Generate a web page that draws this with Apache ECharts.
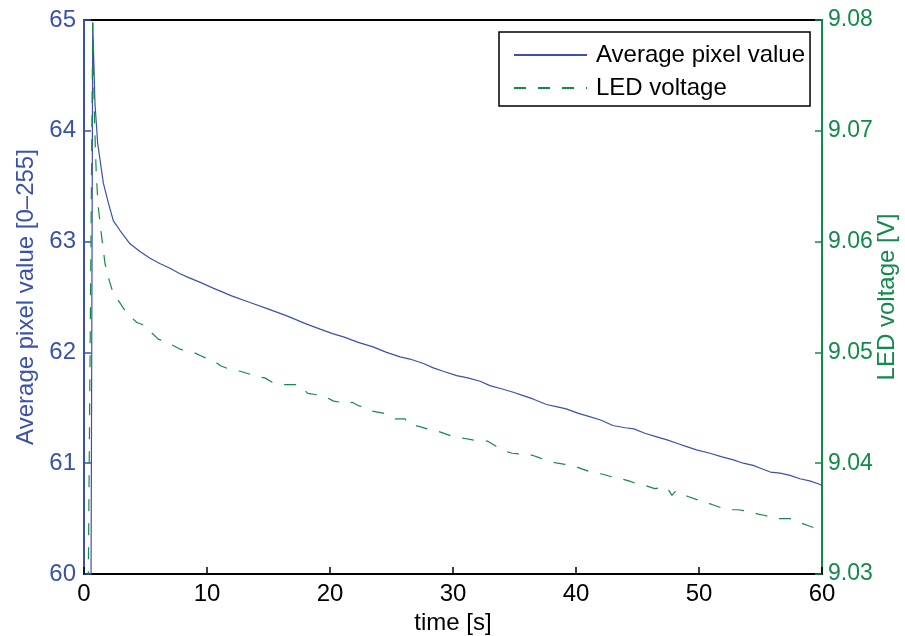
<!DOCTYPE html>
<html>
<head>
<meta charset="utf-8">
<script src="https://cdn.jsdelivr.net/npm/echarts@6/dist/echarts.min.js"></script>
<style>
  html, body { margin: 0; padding: 0; background: #fff; }
  #chart { width: 905px; height: 636px; }
</style>
</head>
<body>
<div id="chart"></div>
<script>
// time axis ticks
var timeTicks = [0, 10, 20, 30, 40, 50, 60];
var pixelTicks = [60, 61, 62, 63, 64, 65];
var voltTicks = [9.03, 9.04, 9.05, 9.06, 9.07, 9.08];

// Average pixel value series
var pixelTime = [0.56, 0.71, 0.89, 1.11, 1.30, 1.57, 1.98, 2.38, 2.93, 3.74, 4.55, 5.37, 6.2, 6.99, 7.8, 8.62, 9.5, 10.5, 12.0, 13.5, 15.0, 16.5, 18.0, 19.2, 20.2, 21.1, 22.3, 23.5, 24.6, 25.7, 26.5, 27.6, 28.4, 29.2, 30.3, 31.2, 32.2, 33.0, 34.0, 34.9, 35.7, 36.5, 37.6, 38.4, 39.2, 40.2, 41.1, 42.0, 43.0, 44.0, 44.7, 45.6, 46.5, 47.4, 48.2, 49.0, 49.8, 50.9, 51.8, 52.8, 53.6, 54.4, 55.1, 55.8, 56.6, 57.4, 58.2, 59.0, 59.8, 60.0];
var pixelValue = [59.5, 64.98, 64.25, 63.89, 63.74, 63.53, 63.35, 63.19, 63.10, 62.98, 62.91, 62.85, 62.80, 62.76, 62.71, 62.67, 62.63, 62.58, 62.51, 62.45, 62.39, 62.33, 62.26, 62.21, 62.17, 62.14, 62.09, 62.05, 62.00, 61.96, 61.94, 61.90, 61.86, 61.83, 61.79, 61.77, 61.74, 61.70, 61.67, 61.64, 61.61, 61.58, 61.53, 61.51, 61.49, 61.45, 61.42, 61.39, 61.34, 61.32, 61.31, 61.27, 61.24, 61.21, 61.18, 61.15, 61.12, 61.09, 61.06, 61.03, 61.00, 60.98, 60.95, 60.92, 60.91, 60.89, 60.86, 60.84, 60.81, 60.80];

// LED voltage series
var ledTime = [0.33, 0.71, 0.85, 1.00, 1.16, 1.44, 1.71, 2.05, 2.38, 2.79, 3.2, 3.6, 4.3, 4.8, 5.37, 6.04, 6.6, 7.1, 7.8, 8.1, 8.9, 9.5, 10.1, 10.6, 11.1, 12.0, 12.7, 13.3, 14.1, 14.7, 15.3, 16.2, 16.8, 17.4, 18.2, 18.8, 19.4, 20.3, 20.9, 21.4, 21.8, 22.3, 22.9, 23.4, 24.4, 25.3, 26.1, 26.3, 27.3, 27.9, 28.5, 29.5, 30.0, 30.6, 31.6, 32.2, 32.8, 33.7, 34.2, 34.8, 35.9, 36.5, 37.0, 38.0, 38.5, 39.1, 40.2, 40.7, 41.2, 42.2, 42.8, 43.3, 44.3, 44.8, 45.3, 46.4, 46.9, 47.4, 47.8, 48.1, 48.6, 49.1, 50.1, 50.6, 51.0, 52.0, 52.6, 53.2, 54.3, 54.8, 55.3, 56.3, 56.9, 57.4, 58.3, 58.8, 59.3, 60.0];
var ledVoltage = [9.027, 9.0797, 9.0710, 9.0660, 9.0631, 9.0604, 9.0580, 9.0565, 9.0553, 9.0547, 9.0540, 9.0534, 9.0527, 9.0525, 9.0519, 9.0512, 9.0510, 9.0507, 9.0503, 9.0502, 9.0500, 9.0497, 9.0494, 9.0492, 9.0488, 9.0484, 9.0483, 9.0481, 9.0478, 9.0477, 9.0473, 9.0471, 9.0471, 9.0471, 9.0463, 9.0462, 9.0461, 9.0456, 9.0455, 9.0453, 9.0455, 9.0452, 9.0450, 9.0447, 9.0445, 9.0440, 9.0440, 9.0436, 9.0433, 9.0431, 9.0430, 9.0426, 9.0424, 9.0423, 9.0421, 9.0420, 9.0420, 9.0414, 9.0411, 9.0409, 9.0408, 9.0407, 9.0405, 9.0401, 9.0400, 9.0399, 9.0396, 9.0394, 9.0392, 9.0390, 9.0388, 9.0387, 9.0384, 9.0382, 9.0381, 9.0377, 9.0378, 9.0378, 9.0371, 9.0375, 9.0372, 9.0370, 9.0366, 9.0364, 9.0363, 9.0359, 9.0358, 9.0358, 9.0356, 9.0354, 9.0353, 9.0350, 9.0350, 9.0350, 9.0346, 9.0344, 9.0342, 9.0342];

var seriesNames = ['Average pixel value', 'LED voltage'];
var leftName = 'Average pixel value [0\u2013255]';
var rightName = 'LED voltage [V]';
var xName = 'time [s]';

var BLUE = '#3a52a8';
var GREEN = '#138a4a';
var FONT = '"Liberation Sans", Arial, Helvetica, sans-serif';
var FS = 24;

function pairs(xs, ys) { return xs.map(function (x, i) { return [x, ys[i]]; }); }

var chart = echarts.init(document.getElementById('chart'), null, { renderer: 'canvas' });
chart.setOption({
  animation: false,
  backgroundColor: '#ffffff',
  textStyle: { fontFamily: FONT },
  grid: { left: 84, right: 83, top: 20, bottom: 62, containLabel: false, outerBoundsMode: 'none', show: true, borderColor: '#000', borderWidth: 2, backgroundColor: 'transparent' },
  legend: {
    orient: 'vertical',
    left: 499, top: 32,
    padding: [11, 5, 6, 14],
    itemGap: 9,
    itemWidth: 73, itemHeight: 14,
    backgroundColor: '#fff',
    borderColor: '#000', borderWidth: 1.5, borderRadius: 0,
    itemStyle: { opacity: 0 },
    textStyle: { fontSize: FS, color: '#000', fontFamily: FONT, padding: [0, 0, 0, 4] },
    data: seriesNames
  },
  xAxis: {
    type: 'value', min: timeTicks[0], max: timeTicks[timeTicks.length - 1], interval: timeTicks[1] - timeTicks[0],
    name: xName, nameLocation: 'middle', nameGap: 37, nameMoveOverlap: false,
    nameTextStyle: { fontSize: FS, color: '#000', fontFamily: FONT },
    axisLine: { onZero: false, lineStyle: { color: '#000', width: 2 } },
    axisTick: { inside: true, length: 7, lineStyle: { color: '#000', width: 1.5 } },
    axisLabel: { fontSize: FS, color: '#000', margin: 8, fontFamily: FONT },
    splitLine: { show: false }
  },
  yAxis: [{
    type: 'value', position: 'left', min: pixelTicks[0], max: pixelTicks[pixelTicks.length - 1], interval: 1,
    name: leftName, nameLocation: 'middle', nameGap: 46, nameMoveOverlap: false,
    nameTextStyle: { fontSize: FS, color: BLUE, fontFamily: FONT },
    axisLine: { show: true, onZero: false, lineStyle: { color: BLUE, width: 2 } },
    axisTick: { show: true, inside: true, length: 7, lineStyle: { color: BLUE, width: 1.5 } },
    axisLabel: { fontSize: FS, color: BLUE, margin: 8, fontFamily: FONT },
    splitLine: { show: false }
  }, {
    type: 'value', position: 'right', min: voltTicks[0], max: voltTicks[voltTicks.length - 1], interval: 0.01,
    name: rightName, nameLocation: 'middle', nameGap: 53, nameMoveOverlap: false,
    nameTextStyle: { fontSize: FS, color: GREEN, fontFamily: FONT },
    axisLine: { show: true, onZero: false, lineStyle: { color: GREEN, width: 2 } },
    axisTick: { show: true, inside: true, length: 7, lineStyle: { color: GREEN, width: 1.5 } },
    axisLabel: { fontSize: 23, color: GREEN, margin: 6, fontFamily: FONT, formatter: function (v) { return v.toFixed(2); } },
    splitLine: { show: false }
  }],
  series: [{
    name: seriesNames[0], type: 'line', yAxisIndex: 0,
    data: pairs(pixelTime, pixelValue),
    showSymbol: false, symbol: 'none', clip: true,
    lineStyle: { color: BLUE, width: 1.2 },
    itemStyle: { color: BLUE }
  }, {
    name: seriesNames[1], type: 'line', yAxisIndex: 1,
    data: pairs(ledTime, ledVoltage),
    showSymbol: false, symbol: 'none', clip: true,
    lineStyle: { color: GREEN, width: 1.2, type: [12, 12] },
    itemStyle: { color: GREEN }
  }]
});
</script>
</body>
</html>
